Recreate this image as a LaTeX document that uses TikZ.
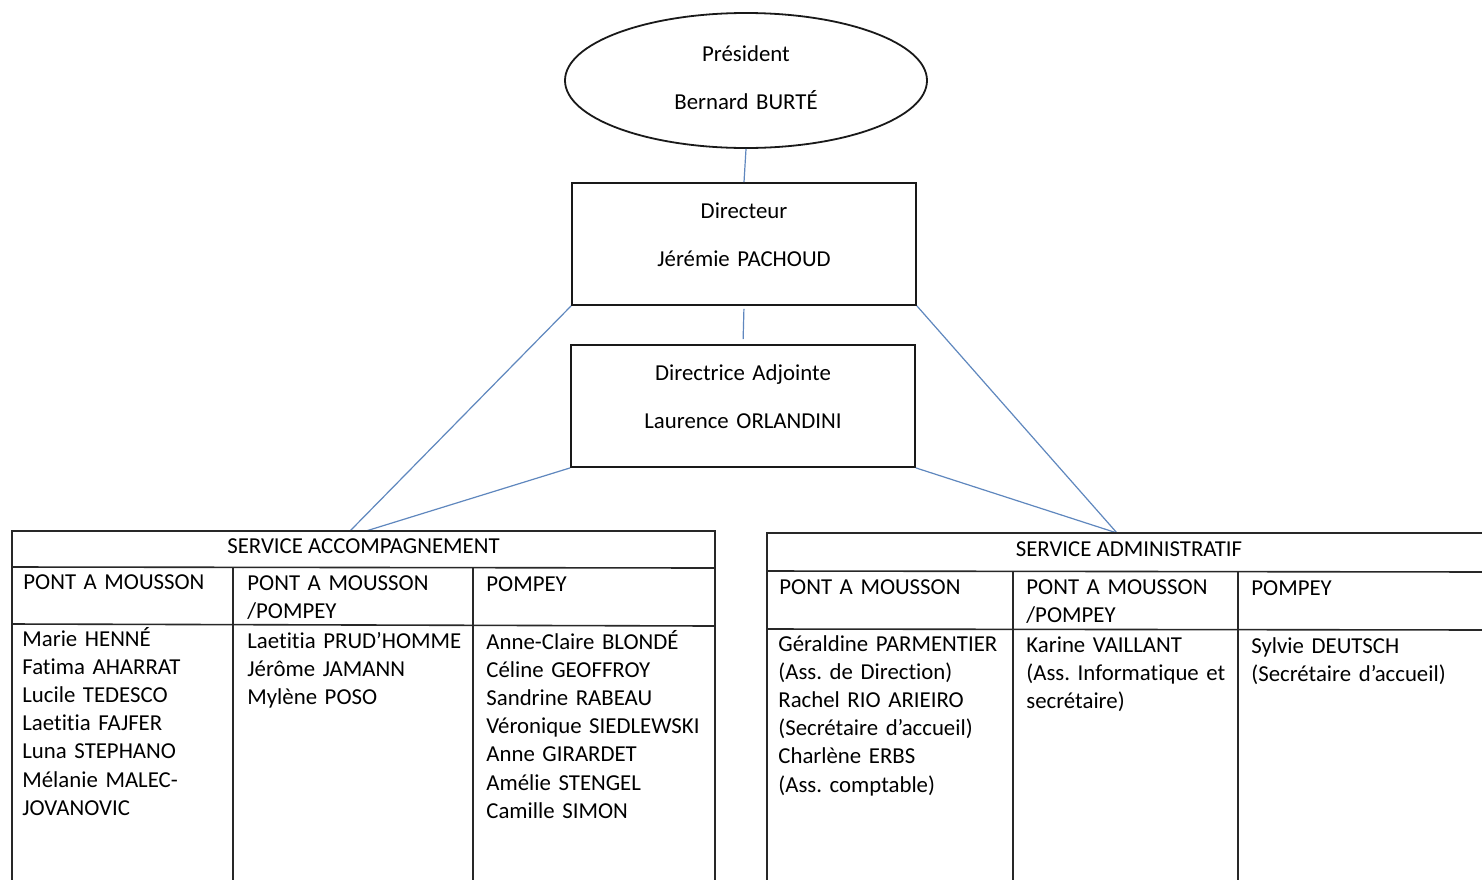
\documentclass[tikz,border=0pt]{standalone}
\usepackage{fontspec}
\setmainfont{Carlito}[Ligatures=NoCommon]
\usetikzlibrary{shapes.geometric}
\definecolor{linkblue}{RGB}{95,135,190}
\definecolor{tablegrey}{RGB}{40,40,40}
\frenchspacing
\begin{document}
\begin{tikzpicture}[x=0.5pt,y=-0.5pt,
  every node/.style={font=\fontsize{11.4}{14.1}\selectfont\frenchspacing, text=black},
  conn/.style={draw=linkblue, line width=0.6pt},
  bossbox/.style={draw=black!90, line width=0.9pt, minimum width=172pt, minimum height=61pt, inner sep=0pt},
  bossell/.style={ellipse, draw=black!90, line width=0.9pt, minimum width=181pt, minimum height=67.5pt, inner sep=0pt},
  bosstext/.style={anchor=base, inner sep=0pt, text width=170pt, align=center},
  tline/.style={draw=tablegrey, line width=0.8pt},
  hdr/.style={anchor=base, inner sep=0pt},
  cell/.style={anchor=base west, inner sep=0pt, text width=125pt, align=left}]
\useasboundingbox (0,0) rectangle (1482,879);
\clip (0,0) rectangle (1482,879);
\fill[white] (0,0) rectangle (1482,879);

% top hierarchy
\node[bossell] (pres) at (746,80.5) {};
\node[bosstext] (prestxt) at (746,61) {Président\\[10pt]Bernard BURTÉ};
\node[bossbox] (dir) at (744,244) {};
\node[bosstext] (dirtxt) at (744,218) {Directeur\\[10pt]Jérémie PACHOUD};
\node[bossbox] (dja) at (743,406) {};
\node[bosstext] (djatxt) at (743,380) {Directrice Adjointe\\[10pt]Laurence ORLANDINI};

% table headers
\node[hdr] (acc) at (363.5,553) {SERVICE ACCOMPAGNEMENT};
\node[hdr] (adm) at (1129,556) {SERVICE ADMINISTRATIF};
\coordinate (accA) at (350,531);
\coordinate (accB) at (366,531);
\coordinate (admA) at (1117,533);

% connectors
\draw[conn] (pres.south) -- (dir.north);
\draw[conn, shorten <=1.5pt, shorten >=2.5pt] (dir.south) -- (dja.north);
\draw[conn] (dir.south west) -- (accA);
\draw[conn] (dja.south west) -- (accB);
\draw[conn] (dir.south east) -- (admA);
\draw[conn] (dja.south east) -- (admA);

% left table frame
\draw[tline] (12,890) -- (12,531) -- (715,531) -- (715,890);
\draw[tline] (12,567) -- (715,568);
\draw[tline] (12,624) -- (715,626);
\draw[tline] (233,567) -- (233,890);
\draw[tline] (473,568) -- (473,890);

% right table frame
\draw[tline] (767,890) -- (767,533) -- (1495,533);
\draw[tline] (767,571) -- (1495,572);
\draw[tline] (767,629) -- (1495,630);
\draw[tline] (1013,571) -- (1013,890);
\draw[tline] (1238,572) -- (1238,890);

% left table cells
\node[cell] (a1h) at (23,589) {PONT A MOUSSON};
\node[cell] (a2h) at (247,590) {PONT A MOUSSON\\/POMPEY};
\node[cell] (a3h) at (486,591) {POMPEY};
\node[cell] (a1) at (22,646) {Marie HENNÉ\\Fatima AHARRAT\\Lucile TEDESCO\\Laetitia FAJFER\\Luna STEPHANO\\Mélanie MALEC-\\JOVANOVIC};
\node[cell] (a2) at (247,648) {Laetitia PRUD’HOMME\\Jérôme JAMANN\\Mylène POSO};
\node[cell] (a3) at (486,649) {Anne-Claire BLONDÉ\\Céline GEOFFROY\\Sandrine RABEAU\\Véronique SIEDLEWSKI\\Anne GIRARDET\\Amélie STENGEL\\Camille SIMON};

% right table cells
\node[cell] (b1h) at (779,594) {PONT A MOUSSON};
\node[cell] (b2h) at (1026,594) {PONT A MOUSSON\\/POMPEY};
\node[cell] (b3h) at (1251,595) {POMPEY};
\node[cell] (b1) at (778,651) {Géraldine PARMENTIER\\(Ass. de Direction)\\Rachel RIO ARIEIRO\\(Secrétaire d’accueil)\\Charlène ERBS\\(Ass. comptable)};
\node[cell] (b2) at (1026,652) {Karine VAILLANT\\(Ass. Informatique et\\secrétaire)};
\node[cell] (b3) at (1251,653) {Sylvie DEUTSCH\\(Secrétaire d’accueil)};
\end{tikzpicture}
\end{document}
